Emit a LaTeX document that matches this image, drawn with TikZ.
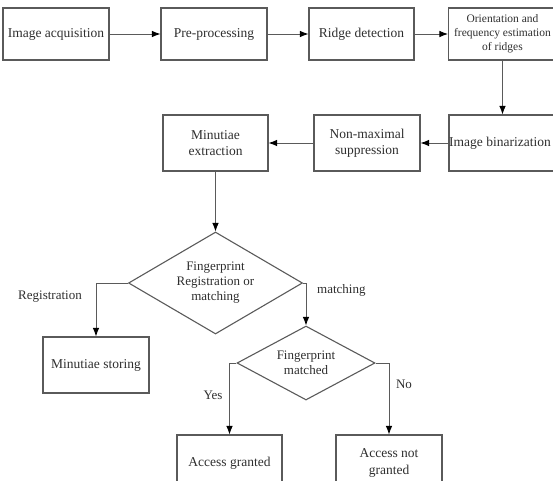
\documentclass[tikz,border=0pt]{standalone}
\usepackage{fontspec}
\setmainfont{Liberation Serif}
\usetikzlibrary{shapes.geometric,arrows.meta}
\definecolor{linec}{HTML}{5A5A5A}
\definecolor{textc}{HTML}{2E2E2E}
\tikzset{
  box/.style={draw=linec, line width=1.1pt, rectangle, minimum width=106pt, minimum height=54pt,
    inner sep=1pt, align=center, text=textc, font=\fontsize{13.5}{16.5}\selectfont},
  dec/.style={draw=linec, line width=1.1pt, diamond, inner sep=0pt, align=center, text=textc,
    font=\fontsize{13}{15}\selectfont},
  conn/.style={draw=linec, line width=0.9pt, -{Latex[length=8.5pt,width=6.5pt,color=black]}},
  lbl/.style={text=textc, font=\fontsize{13}{15}\selectfont, inner sep=0pt}
}
\begin{document}
\begin{tikzpicture}[x=1pt,y=-1pt]
\useasboundingbox (0,0) rectangle (553,480);
\clip (0,0) rectangle (553,480);
% top row
\node[box, minimum height=52pt] (acq) at (56,34) {Image acquisition};
\node[box, minimum height=52pt] (pre) at (214,34) {Pre-processing};
\node[box, minimum height=52pt, minimum width=105pt] (ridge) at (361.5,34) {Ridge detection};
\node[box, minimum height=52pt, minimum width=108pt, font=\fontsize{11.5}{14}\selectfont] (orient) at (502.5,34) {Orientation and\\frequency estimation\\of ridges};
% middle row
\node[box, minimum height=56pt, minimum width=108pt] (binar) at (503,143) {\hspace*{-3pt}Image binarization\hspace*{3pt}};
\node[box, minimum height=56pt] (nonmax) at (367,143) {Non-maximal\\suppression};
\node[box, minimum height=56pt, minimum width=105pt] (mext) at (215.5,143) {Minutiae\\extraction};
% decisions
\node[dec, shape aspect=1.7, minimum width=174pt, minimum height=102pt] (d1) at (215.5,283) {Fingerprint\\Registration or\\matching};
\node[dec, shape aspect=1.86, minimum width=138pt, minimum height=74pt] (d2) at (306,363) {Fingerprint\\matched};
% bottom boxes
\node[box, minimum height=56pt] (mstore) at (96,365) {Minutiae storing};
\node[box, minimum height=56pt, minimum width=105pt] (granted) at (229.5,463) {Access granted};
\node[box, minimum height=56pt] (notgr) at (389,463) {Access not\\granted};
% connectors
\draw[conn] (acq) -- (pre);
\draw[conn] (pre) -- (ridge);
\draw[conn] (ridge) -- (orient);
\draw[conn] (orient.south) -- (orient.south |- binar.north);
\draw[conn] (binar) -- (nonmax);
\draw[conn] (nonmax) -- (mext);
\draw[conn] (mext.south) -- (d1.north);
\draw[conn] (d1.east) -| (d2.north);
\draw[conn] (d1.west) -| (mstore.north);
\draw[conn] (d2.west) -| (granted.north);
\draw[conn] (d2.east) -| (notgr.north);
% labels
\node[lbl] (lreg) at (50,297) {Registration};
\node[lbl, anchor=west] (lmat) at (317,290) {matching};
\node[lbl] (lyes) at (213,395) {Yes};
\node[lbl] (lno) at (404,384) {No};
\end{tikzpicture}
\end{document}
